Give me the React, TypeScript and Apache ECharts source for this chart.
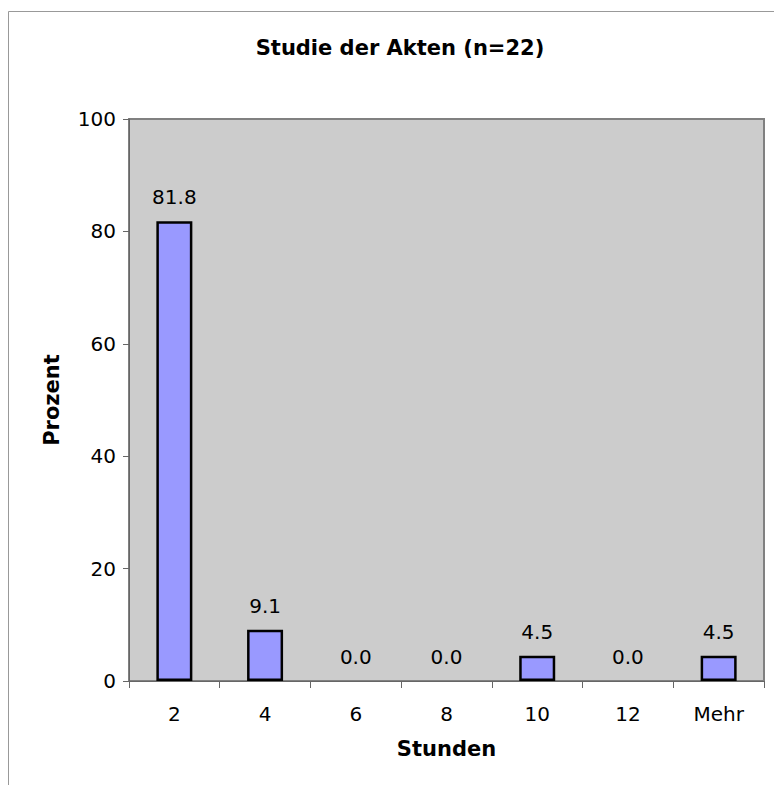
import React, { useEffect, useRef } from "react";
import * as echarts from "echarts";

const categories = ["2", "4", "6", "8", "10", "12", "Mehr"];
const prozent = [81.8, 9.1, 0.0, 0.0, 4.5, 0.0, 4.5];
const yTicks = [0, 20, 40, 60, 80, 100];
const titleText = "Studie der Akten (n=22)";
const xName = "Stunden";
const yName = "Prozent";

const FONT = "DejaVu Sans, Verdana, sans-serif";

export default function App() {
  const ref = useRef<HTMLDivElement>(null);
  useEffect(() => {
    if (!ref.current) return;
    const chart = echarts.init(ref.current, undefined, { renderer: "svg" });
    chart.setOption({
      animation: false,
      backgroundColor: "#ffffff",
      title: {
        text: titleText,
        left: 395,
        textAlign: "center",
        top: 32,
        textStyle: { fontFamily: FONT, fontWeight: "bold", fontSize: 21, color: "#000" },
      },
      graphic: [
        {
          type: "rect",
          shape: { x: 8.5, y: 11.5, width: 900, height: 900 },
          style: { fill: "none", stroke: "#999999", lineWidth: 1 },
          silent: true,
          z: 100,
        },
      ],
      grid: {
        left: 129,
        top: 119,
        right: 10,
        bottom: 104,
        show: true,
        backgroundColor: "#cccccc",
        borderColor: "#808080",
        borderWidth: 2,
      },
      xAxis: {
        type: "category",
        data: categories,
        name: xName,
        nameLocation: "middle",
        nameGap: 57,
        nameTextStyle: { fontFamily: FONT, fontWeight: "bold", fontSize: 21, color: "#000" },
        axisLine: { show: true, lineStyle: { color: "#666666", width: 1 } },
        axisTick: { show: true, alignWithLabel: false, length: 7, lineStyle: { color: "#666666" } },
        axisLabel: { fontFamily: FONT, fontSize: 20, color: "#000", margin: 23 },
        splitLine: { show: false },
      },
      yAxis: {
        type: "value",
        min: yTicks[0],
        max: yTicks[yTicks.length - 1],
        interval: 20,
        name: yName,
        nameLocation: "middle",
        nameGap: 67,
        nameTextStyle: { fontFamily: FONT, fontWeight: "bold", fontSize: 21, color: "#000" },
        axisLine: { show: true, lineStyle: { color: "#666666", width: 1 } },
        axisTick: { show: true, length: 6, lineStyle: { color: "#666666" } },
        axisLabel: { fontFamily: FONT, fontSize: 20, color: "#000", margin: 13 },
        splitLine: { show: false },
      },
      series: [
        {
          type: "bar",
          data: prozent.map((v) =>
            v === 0
              ? { value: v, itemStyle: { borderWidth: 0, color: "rgba(0,0,0,0)" } }
              : { value: v }
          ),
          barWidth: 36,
          itemStyle: { color: "#9999ff", borderColor: "#000000", borderWidth: 2.5 },
          label: {
            show: true,
            position: "top",
            distance: 14,
            formatter: (p: any) => Number(p.value).toFixed(1),
            fontFamily: FONT,
            fontSize: 20,
            color: "#000",
          },
        },
      ],
    });
    return () => chart.dispose();
  }, []);
  return (
    <div
      ref={ref}
      style={{ position: "fixed", left: 0, top: 0, width: 774, height: 785 }}
    />
  );
}
